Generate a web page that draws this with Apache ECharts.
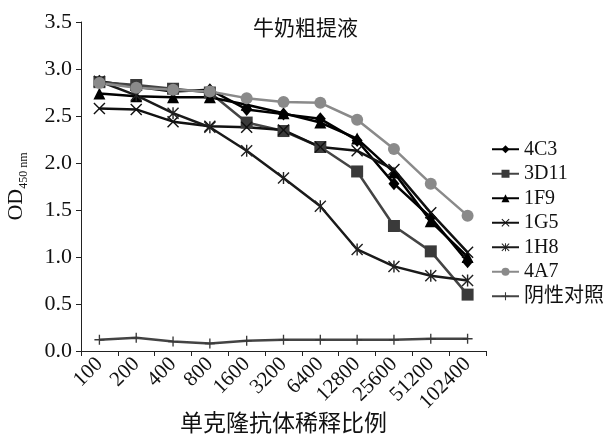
<!DOCTYPE html>
<html>
<head>
<meta charset="utf-8">
<script src="https://cdn.jsdelivr.net/npm/echarts@6/dist/echarts.min.js"></script>
<style>
  html, body { margin: 0; padding: 0; background: #fff; }
  #chart { width: 608px; height: 439px; }
</style>
</head>
<body>
<div id="chart"></div>
<script>
// Dilution ratios of the monoclonal antibodies (x axis categories)
const dilutions = ['100', '200', '400', '800', '1600', '3200', '6400', '12800', '25600', '51200', '102400'];

// OD450 readings for each antibody
const s4C3  = [2.87, 2.81, 2.76, 2.78, 2.57, 2.52, 2.47, 2.24, 1.78, 1.42, 0.95];
const s3D11 = [2.86, 2.83, 2.79, 2.75, 2.43, 2.34, 2.17, 1.91, 1.33, 1.06, 0.60];
const s1F9  = [2.74, 2.71, 2.70, 2.70, 2.62, 2.53, 2.43, 2.26, 1.90, 1.38, 1.00];
const s1G5  = [2.58, 2.57, 2.44, 2.39, 2.38, 2.35, 2.17, 2.13, 1.93, 1.47, 1.05];
const s1H8  = [2.87, 2.72, 2.53, 2.38, 2.13, 1.84, 1.54, 1.08, 0.90, 0.80, 0.75];
const s4A7  = [2.85, 2.80, 2.78, 2.76, 2.69, 2.65, 2.64, 2.46, 2.15, 1.78, 1.44];
const sNeg  = [0.12, 0.14, 0.10, 0.08, 0.11, 0.12, 0.12, 0.12, 0.12, 0.13, 0.13];

// Y axis ticks
const yTicks = { min: 0, max: 3.5, step: 0.5 };

const FONT = "'Liberation Serif', 'Noto Sans CJK SC', serif";

// Filled marker outlines
const SYM_X = 'path://M0,1L1,0L6,5L11,0L12,1L7,6L12,11L11,12L6,7L1,12L0,11L5,6Z';
const SYM_STAR = 'path://M0,1L1,0L6,5L11,0L12,1L7,6L12,11L11,12L6,7L1,12L0,11L5,6Z M5.3,0L6.7,0L6.7,12L5.3,12Z';
const SYM_PLUS = 'path://M0,5.2L12,5.2L12,6.8L0,6.8Z M5.2,0L6.8,0L6.8,12L5.2,12Z';

function lineSeries(name, data, color, symbol, size, lineColor) {
  return {
    name: name,
    type: 'line',
    data: data,
    symbol: symbol,
    symbolSize: size,
    showAllSymbol: true,
    itemStyle: { color: color },
    lineStyle: { color: lineColor || color, width: 2.5 },
    emphasis: { disabled: true },
    animation: false
  };
}

const chart = echarts.init(document.getElementById('chart'), null, { renderer: 'canvas' });

chart.setOption({
  backgroundColor: '#fff',
  animation: false,
  title: {
    text: '牛奶粗提液',
    left: 253,
    top: 19,
    padding: 0,
    textStyle: { fontFamily: FONT, fontSize: 21, fontWeight: 'normal', color: '#111' }
  },
  grid: { left: 81, right: 122, top: 22, bottom: 88, containLabel: false, outerBoundsMode: 'none' },
  legend: {
    orient: 'vertical',
    left: 491,
    top: 139,
    itemWidth: 27,
    itemHeight: 10,
    itemGap: 4,
    padding: 0,
    textStyle: { fontFamily: FONT, fontSize: 20, color: '#111', lineHeight: 20.5 },
    data: ['4C3', '3D11', '1F9', '1G5', '1H8', '4A7', '阴性对照']
  },
  xAxis: {
    type: 'category',
    data: dilutions,
    boundaryGap: true,
    name: '单克隆抗体稀释比例',
    nameLocation: 'middle',
    nameGap: 62,
    nameMoveOverlap: false,
    nameTextStyle: { fontFamily: FONT, fontSize: 23, color: '#111' },
    axisLine: { lineStyle: { color: '#222', width: 1 } },
    axisTick: { show: true, inside: false, length: 5, alignWithLabel: false, lineStyle: { color: '#222' } },
    axisLabel: { rotate: 45, margin: 10, fontFamily: FONT, fontSize: 21, color: '#111', interval: 0 },
    splitLine: { show: false }
  },
  yAxis: {
    type: 'value',
    min: yTicks.min,
    max: yTicks.max,
    interval: yTicks.step,
    name: '{a|OD}{b|450 nm}',
    nameLocation: 'middle',
    nameRotate: 90,
    nameGap: 54,
    nameMoveOverlap: false,
    nameTextStyle: {
      rich: {
        a: { fontFamily: FONT, fontSize: 22, color: '#111', verticalAlign: 'bottom', lineHeight: 22 },
        b: { fontFamily: FONT, fontSize: 12, color: '#111', verticalAlign: 'bottom', lineHeight: 22, padding: [0, 0, -3, 0] }
      }
    },
    axisLine: { show: true, lineStyle: { color: '#222', width: 1 } },
    axisTick: { show: true, inside: false, length: 5, lineStyle: { color: '#222' } },
    axisLabel: {
      margin: 9,
      fontFamily: FONT,
      fontSize: 22,
      color: '#111',
      formatter: function (v) { return v.toFixed(1); }
    },
    splitLine: { show: false }
  },
  series: [
    lineSeries('4C3', s4C3, '#000', 'diamond', [11, 13]),
    lineSeries('3D11', s3D11, '#3a3a3a', 'rect', 12, '#444'),
    lineSeries('1F9', s1F9, '#000', 'triangle', 12),
    lineSeries('1G5', s1G5, '#111', SYM_X, 12),
    lineSeries('1H8', s1H8, '#222', SYM_STAR, 12, '#1a1a1a'),
    lineSeries('4A7', s4A7, '#8a8a8a', 'circle', 12),
    lineSeries('阴性对照', sNeg, '#3a3a3a', SYM_PLUS, 10, '#444')
  ]
});
</script>
</body>
</html>
